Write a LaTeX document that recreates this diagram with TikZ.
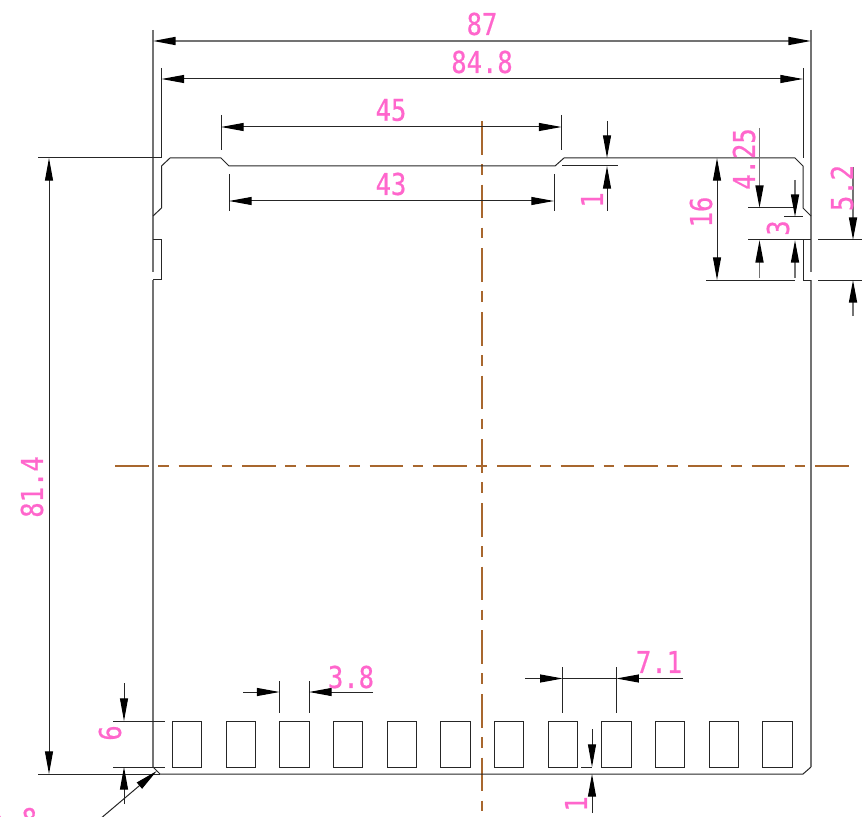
\documentclass[tikz,border=0pt]{standalone}
\usepackage{fontspec}
\newfontfamily\dimfont[FakeBold=0.6]{DejaVu Sans Mono}
\usetikzlibrary{arrows.meta}
\definecolor{dimpink}{HTML}{FF66CC}
\definecolor{axisbrown}{HTML}{A8672E}
\tikzset{
	edge/.style={line width=0.75pt,draw=black!85},
	greyedge/.style={line width=1.2pt,draw=black!55},
	axis/.style={line width=1.1pt,draw=axisbrown,dash pattern=on 25.25pt off 7pt on 8pt off 7.5pt},
	dimtext/.style={text=dimpink,font=\dimfont\fontsize{22.5}{22.5}\selectfont,inner sep=0pt,xscale=0.85,transform shape},
	>={Triangle[length=17pt,width=6pt,color=black,fill=black]},
	x=0.75pt,y=-0.75pt
}
\begin{document}
\begin{tikzpicture}
	\useasboundingbox (0,0) rectangle (862,816);
	\clip (0,0) rectangle (862,816);

	\draw[axis] (115,466) -- (850,466);
	\draw[axis] (482,121) -- (482,811);

	\draw[greyedge] (153,30) -- (153,272);
	\draw[greyedge] (811,30) -- (811,272);
	\draw[edge] (161.5,68) -- (161.5,158);
	\draw[edge] (803,68) -- (803,158);
	\draw[edge] (153,216) -- (161.5,208) -- (161.5,166) -- (170,158) -- (221,158) -- (229,166) -- (555,166) -- (564,158) -- (795,158) -- (803,166) -- (803,208) -- (811,216);
	\draw[edge] (153,240) -- (161.5,240) -- (161.5,279.5) -- (153,279.5);
	\draw[greyedge] (153,279.5) -- (153,767);
	\draw[edge] (153,767) -- (160,774) -- (803,774);
	\draw[edge] (803,774) -- (811,767);
	\draw[greyedge] (811,767) -- (811,280);
	\draw[edge] (811,280) -- (803,280) -- (803,240);

	\draw[edge] (172.3,721) rectangle (201.7,767);
	\draw[edge] (226,721) rectangle (255.4,767);
	\draw[edge] (279.6,721) rectangle (309,767);
	\draw[edge] (333.3,721) rectangle (362.7,767);
	\draw[edge] (387,721) rectangle (416.4,767);
	\draw[edge] (440.6,721) rectangle (470,767);
	\draw[edge] (494.3,721) rectangle (523.7,767);
	\draw[edge] (548,721) rectangle (577.4,767);
	\draw[edge] (601.7,721) rectangle (631.1,767);
	\draw[edge] (655.3,721) rectangle (684.7,767);
	\draw[edge] (709,721) rectangle (738.4,767);
	\draw[edge] (762.7,721) rectangle (792,767);

	\draw[greyedge,<->] (153,41) -- (811,41);
	\draw[edge,<->] (161.5,79) -- (803,79);
	\node[dimtext] (w87) at (482,24) {87};
	\node[dimtext] (w848) at (482,62) {84.8};

	\draw[edge] (221,115) -- (221,150);
	\draw[edge] (561.5,115) -- (561.5,150);
	\draw[edge,<->] (221,127) -- (561.5,127);
	\node[dimtext] (w45) at (391,110) {45};
	\draw[edge] (229,174) -- (229,211);
	\draw[edge] (554,174) -- (554,211);
	\draw[edge,<->] (229,201) -- (554,201);
	\node[dimtext] (w43) at (391,184) {43};

	\draw[edge] (562,166) -- (618,166);
	\draw[edge,->] (607,121) -- (607,158);
	\draw[edge,->] (607,211) -- (607,166);
	\node[rotate=90,dimtext] (h1top) at (592,200) {1};

	\draw[edge] (38,158) -- (161.5,158);
	\draw[edge] (38,774) -- (160,774);
	\draw[edge,<->] (49,158) -- (49,774);
	\node[rotate=90,dimtext] (h814) at (32,487) {81.4};

	\draw[edge] (706,280) -- (795,280);
	\draw[edge,<->] (717,158) -- (717,280);
	\node[rotate=90,dimtext] (h16) at (701,212) {16};

	\draw[edge] (748,208) -- (795,208);
	\draw[edge] (748,240) -- (811,240);
	\draw[greyedge,->] (759.5,128) -- (759.5,208);
	\draw[greyedge,->] (759.5,278) -- (759.5,240);
	\node[rotate=90,dimtext] (h425) at (744,159) {4.25};

	\draw[edge] (784,217) -- (803,217);
	\draw[greyedge,->] (795,180) -- (795,217);
	\draw[greyedge,->] (795,278) -- (795,240);
	\node[rotate=90,dimtext] (h3) at (778,228) {3};

	\draw[edge] (818,240) -- (862,240);
	\draw[edge] (818,280) -- (862,280);
	\draw[greyedge,->] (853,167) -- (853,240);
	\draw[greyedge,->] (853,316) -- (853,280);
	\node[rotate=90,dimtext] (h52) at (842,188) {5.2};

	\draw[edge] (113,721) -- (165,721);
	\draw[edge] (113,767) -- (165,767);
	\draw[edge,->] (124,683) -- (124,721);
	\draw[edge,->] (124,804) -- (124,767);
	\node[rotate=90,dimtext] (h6) at (110,733) {6};

	\draw[edge] (279.6,681) -- (279.6,713);
	\draw[edge] (309,681) -- (309,713);
	\draw[edge,->] (243,692) -- (279.6,692);
	\draw[edge,->] (373,692) -- (309,692);
	\node[dimtext] (w38) at (351,677) {3.8};

	\draw[edge] (562.7,667) -- (562.7,713);
	\draw[edge] (616.3,667) -- (616.3,713);
	\draw[edge,->] (525,678.5) -- (562.7,678.5);
	\draw[edge,->] (683,678.5) -- (616.3,678.5);
	\draw[edge] (562.7,678.5) -- (616.3,678.5);
	\node[dimtext] (w71) at (659,662) {7.1};

	\draw[edge] (581,767) -- (592,767);
	\draw[edge,->] (592,729) -- (592,767);
	\draw[edge,->] (592,813) -- (592,774);
	\node[rotate=90,dimtext] (h1bot) at (576,804) {1};

	\draw[edge,->] (80,836) -- (156.7,771);
	\node[rotate=15,dimtext] (cham) at (16,823) {1.8};
\end{tikzpicture}
\end{document}
